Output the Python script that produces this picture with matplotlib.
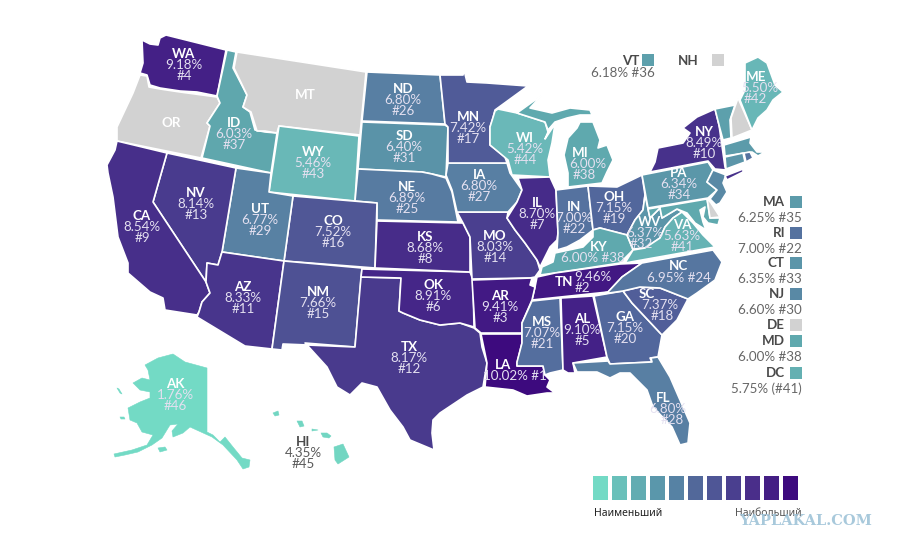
import matplotlib
matplotlib.use('Agg')
import matplotlib.pyplot as plt
from matplotlib.colors import LinearSegmentedColormap
from matplotlib.patches import Polygon, Rectangle

plt.rcParams['font.family'] = ['Lato', 'Noto Sans', 'DejaVu Sans']

# Datos: tasa y puesto de cada estado
codes = ['WA', 'ID', 'WY', 'ND', 'SD', 'NE', 'UT', 'NV', 'CA', 'CO', 'KS', 'MN', 'WI', 'MI', 'IA', 'IL',
         'IN', 'OH', 'PA', 'NY', 'ME', 'WV', 'VA', 'MO', 'KY', 'NC', 'SC', 'GA', 'AL', 'MS', 'AR', 'LA',
         'FL', 'OK', 'NM', 'AZ', 'TX', 'TN', 'AK', 'HI', 'VT', 'MA', 'RI', 'CT', 'NJ', 'MD']
values = [9.18, 6.03, 5.46, 6.80, 6.40, 6.89, 6.77, 8.14, 8.54, 7.52, 8.68, 7.42, 5.42, 6.00, 6.80, 8.70,
          7.00, 7.15, 6.34, 8.49, 5.50, 6.37, 5.63, 8.03, 6.00, 6.95, 7.37, 7.15, 9.10, 7.07, 9.41, 10.02,
          6.80, 8.91, 7.66, 8.33, 8.17, 9.46, 1.76, 4.35, 6.18, 6.25, 7.00, 6.35, 6.60, 6.00]
ranks = [4, 37, 43, 26, 31, 25, 29, 13, 9, 16, 8, 17, 44, 38, 27, 7,
         22, 19, 34, 10, 42, 32, 41, 14, 38, 24, 18, 20, 5, 21, 3, 1,
         28, 6, 15, 11, 12, 2, 46, 45, 36, 35, 22, 33, 30, 38]
no_data = ['OR', 'MT', 'NH', 'DE']

# Estados pequeños que van en la leyenda lateral
side_codes = ['MA', 'RI', 'CT', 'NJ', 'DE', 'MD', 'DC']
side_text = ['6.25% #35', '7.00% #22', '6.35% #33', '6.60% #30', '', '6.00% #38', '5.75% (#41)']
side_values = [6.25, 7.00, 6.35, 6.60, None, 6.00, 5.75]

legend_colors = ['#73DAC5', '#69C0BA', '#62ACB2', '#5A97AB', '#5682A4', '#52689A',
                 '#4F5696', '#4A3F8F', '#4A2E8A', '#441E84', '#3D0A7E']

# Escala de color
scale_vals = [1.76, 4.35, 5.4, 6.0, 6.4, 6.8, 7.2, 7.6, 8.1, 8.6, 9.2, 10.02]
scale_cols = ['#73DAC5', '#72D6C2', '#6AB9B8', '#5FA9AE', '#5A93A8', '#5880A3',
              '#52659B', '#4F5495', '#493C8E', '#472E8A', '#441F86', '#3D0A7E']
cmap = LinearSegmentedColormap.from_list(
    'tasa', [((v - 1.76) / (10.02 - 1.76), c) for v, c in zip(scale_vals, scale_cols)])


def color_of(v):
    return cmap((v - 1.76) / (10.02 - 1.76))


# Contornos de los estados, en píxeles de la imagen
outlines = {
    'WA': [[(142, 40), (150, 44), (158, 45), (160, 38), (166, 35), (226, 50), (217, 96), (197, 92), (180, 91),
            (160, 88), (150, 85), (147, 75), (140, 73), (143, 63)]],
    'OR': [[(140, 75), (147, 76), (149, 87), (160, 89), (180, 92), (217, 97), (220, 103), (207, 123), (210, 126),
            (201, 158), (117, 141), (117, 127), (133, 93)]],
    'ID': [[(227, 50), (236, 52), (233, 68), (247, 95), (243, 107), (250, 112), (255, 130), (265, 132), (277, 133),
            (271, 173), (202, 158), (210, 126), (207, 123), (220, 103), (217, 96)]],
    'MT': [[(237, 52), (366, 72), (360, 135), (279, 126), (277, 133), (265, 131), (257, 131), (251, 112), (243, 107),
            (247, 95), (234, 68)]],
    'WY': [[(279, 126), (359, 136), (355, 201), (269, 192)]],
    'ND': [[(367, 72), (440, 75), (445, 124), (362, 121)]],
    'SD': [[(362, 122), (445, 125), (448, 127), (446, 177), (432, 174), (422, 172), (358, 169)]],
    'NE': [[(358, 169), (422, 172), (432, 174), (446, 178), (452, 192), (458, 222), (377, 220), (377, 203), (355, 201)]],
    'CO': [[(293, 196), (377, 203), (375, 268), (284, 261)]],
    'UT': [[(236, 168), (271, 173), (269, 192), (293, 196), (284, 261), (222, 252)]],
    'NV': [[(167, 153), (236, 168), (222, 252), (218, 265), (207, 263), (206, 282), (153, 202)]],
    'CA': [[(117, 141), (167, 153), (153, 202), (206, 282), (210, 293), (202, 302), (199, 312), (197, 315), (165, 310),
            (163, 298), (150, 292), (128, 273), (128, 263), (118, 237), (113, 197), (108, 173), (107, 165), (115, 150)]],
    'AZ': [[(222, 252), (284, 261), (272, 349), (245, 346), (197, 317), (199, 312), (202, 302), (210, 293), (206, 282),
            (207, 263), (218, 265)]],
    'NM': [[(284, 261), (362, 268), (355, 347), (305, 343), (308, 345), (283, 344), (282, 350), (272, 349)]],
    'TX': [[(361, 277), (401, 278), (399, 311), (403, 313), (420, 320), (440, 325), (460, 323), (474, 328),
            (480, 333), (482, 347), (487, 363), (483, 387), (467, 395), (440, 413), (433, 420), (432, 433),
            (434, 450), (410, 440), (403, 427), (390, 410), (377, 387), (362, 383), (350, 395), (337, 387),
            (327, 367), (307, 345), (355, 347)]],
    'OK': [[(362, 269), (470, 272), (473, 280), (474, 327), (460, 323), (440, 325), (420, 320), (403, 313),
            (399, 311), (401, 278), (361, 277)]],
    'KS': [[(377, 221), (463, 223), (470, 237), (470, 272), (375, 268)]],
    'MO': [[(457, 212), (508, 212), (507, 218), (515, 230), (525, 243), (537, 260), (540, 270), (535, 277), (530, 278),
            (472, 279), (470, 237), (463, 223)]],
    'IA': [[(448, 163), (507, 163), (510, 173), (522, 190), (517, 202), (508, 212), (457, 212), (452, 190), (446, 175)]],
    'MN': [[(440, 75), (463, 75), (464, 70), (467, 82), (487, 83), (528, 86), (495, 110), (493, 118), (490, 127),
            (490, 145), (505, 157), (507, 163), (448, 163), (448, 127), (445, 124)]],
    'WI': [[(495, 111), (498, 109), (517, 113), (545, 122), (548, 132), (545, 139), (555, 124), (552, 143), (548, 160),
            (550, 177), (512, 175), (508, 160), (490, 145), (490, 127)]],
    'MI': [[(517, 113), (542, 95), (530, 108), (552, 113), (570, 108), (590, 110), (592, 115), (580, 115), (567, 118),
            (555, 122), (548, 130), (545, 122)],
           [(580, 122), (593, 122), (600, 140), (598, 148), (607, 145), (613, 160), (607, 172), (602, 183), (568, 187),
            (568, 173), (564, 155), (568, 138), (577, 128)]],
    'IL': [[(518, 178), (550, 177), (556, 190), (558, 233), (557, 240), (550, 247), (540, 267), (537, 260), (525, 243),
            (515, 230), (507, 218), (517, 202), (522, 190)]],
    'IN': [[(556, 190), (588, 186), (593, 230), (580, 240), (567, 247), (557, 250), (558, 233)]],
    'OH': [[(588, 186), (617, 187), (642, 175), (645, 195), (643, 210), (635, 220), (627, 235), (600, 228), (593, 230)]],
    'KY': [[(540, 275), (542, 267), (553, 262), (555, 253), (583, 247), (593, 237), (593, 230), (600, 228), (627, 235),
            (633, 250), (620, 263), (555, 273)]],
    'TN': [[(537, 277), (555, 273), (620, 264), (642, 263), (622, 277), (608, 292), (532, 300), (535, 287)]],
    'WV': [[(645, 195), (648, 209), (650, 218), (660, 208), (662, 218), (677, 209), (682, 212), (673, 218), (665, 227),
            (660, 238), (645, 248), (633, 249), (627, 235), (635, 220), (643, 210)]],
    'VA': [[(682, 212), (693, 223), (703, 235), (715, 247), (625, 263), (633, 250), (645, 248), (660, 238), (665, 227),
            (673, 218)]],
    'MD': [[(648, 209), (707, 199), (710, 218), (720, 218), (718, 225), (708, 223), (703, 217), (705, 207), (700, 210),
            (703, 222), (706, 230), (695, 223), (687, 213), (677, 209), (662, 218), (660, 208), (650, 218)]],
    'DE': [[(707, 198), (711, 203), (720, 217), (710, 218)]],
    'PA': [[(642, 175), (708, 162), (713, 170), (707, 182), (717, 190), (708, 198), (648, 208)]],
    'NJ': [[(713, 170), (726, 175), (723, 183), (727, 192), (720, 203), (716, 205), (710, 199), (717, 190), (707, 182)]],
    'NY': [[(650, 172), (655, 162), (658, 148), (683, 143), (690, 133), (683, 128), (697, 117), (715, 109), (719, 125),
            (725, 167), (726, 170), (715, 169), (708, 161)],
           [(725, 176), (743, 169), (743, 172), (727, 180)]],
    'VT': [[(715, 109), (735, 105), (730, 120), (731, 138), (723, 140), (719, 125)]],
    'NH': [[(738, 98), (752, 130), (732, 138), (731, 118)]],
    'ME': [[(740, 100), (745, 90), (745, 63), (758, 57), (767, 63), (775, 85), (783, 92), (773, 100), (767, 110),
            (758, 118), (752, 130)]],
    'MA': [[(724, 145), (751, 137), (750, 143), (757, 152), (765, 152), (758, 156), (752, 152), (725, 156)]],
    'CT': [[(725, 157), (743, 153), (745, 162), (726, 169)]],
    'RI': [[(744, 153), (750, 152), (753, 158), (746, 162)]],
    'AR': [[(472, 280), (532, 278), (530, 285), (535, 287), (532, 300), (522, 323), (522, 333), (481, 333), (475, 328)]],
    'LA': [[(481, 334), (522, 334), (522, 343), (517, 363), (517, 366), (543, 366), (545, 375), (550, 380), (547, 387),
            (555, 393), (547, 393), (527, 396), (513, 390), (485, 387), (487, 363)]],
    'MS': [[(532, 301), (560, 298), (563, 370), (550, 373), (545, 375), (543, 366), (517, 366), (517, 362), (522, 343),
            (522, 323)]],
    'AL': [[(561, 298), (593, 296), (607, 357), (573, 363), (575, 373), (568, 373), (563, 370)]],
    'GA': [[(594, 296), (623, 291), (632, 303), (662, 335), (658, 357), (650, 358), (652, 362), (610, 364), (607, 357)]],
    'FL': [[(573, 363), (608, 361), (610, 364), (652, 362), (651, 358), (658, 357), (670, 377), (690, 423), (688, 443),
            (680, 445), (672, 427), (653, 407), (647, 390), (630, 373), (620, 373), (610, 378), (597, 372), (577, 372)]],
    'SC': [[(623, 291), (640, 287), (660, 288), (688, 299), (677, 320), (662, 335), (632, 303)]],
    'NC': [[(608, 292), (622, 277), (642, 263), (713, 250), (722, 262), (715, 280), (697, 293), (688, 299), (660, 288),
            (640, 287), (623, 291), (595, 295)]],
    'AK': [[(145, 365), (158, 358), (173, 354), (185, 362), (207, 368), (207, 432), (213, 435), (220, 442), (225, 437),
            (233, 447), (242, 458), (250, 460), (249, 467), (243, 469), (237, 460), (223, 445), (212, 437), (190, 427),
            (183, 433), (173, 437), (172, 431), (178, 424), (170, 425), (162, 438), (152, 445), (138, 452), (125, 455),
            (115, 457), (114, 454), (132, 450), (147, 445), (153, 435), (142, 432), (137, 423), (130, 420), (128, 408),
            (140, 402), (150, 398), (150, 392), (140, 390), (133, 383), (142, 378), (150, 380), (148, 370)],
           [(158, 448), (165, 447), (167, 450), (160, 452)],
           [(117, 388), (119, 389), (122, 394), (120, 393)],
           [(120, 417), (124, 417), (125, 419), (121, 419)]],
    'HI': [[(273, 413), (278, 411), (279, 415), (275, 416)],
           [(297, 421), (302, 421), (304, 426), (300, 427)],
           [(312, 429), (318, 430), (312, 431)],
           [(321, 433), (327, 433), (331, 436), (329, 438), (323, 437)],
           [(334, 447), (343, 444), (349, 457), (338, 464), (335, 460)]],
}

# Posición de la primera línea de cada etiqueta
label_pos = {
    'WA': (184, 54), 'ID': (234, 123), 'WY': (313, 152), 'ND': (403, 89), 'SD': (404, 136), 'NE': (407, 187),
    'UT': (260, 209), 'NV': (196, 193), 'CA': (142, 216), 'CO': (333, 221), 'KS': (425, 237), 'MN': (468, 117),
    'WI': (525, 138), 'MI': (580, 153), 'IA': (479, 175), 'IL': (537, 203), 'IN': (574, 207), 'OH': (614, 197),
    'PA': (679, 173), 'NY': (704, 132), 'ME': (756, 77), 'WV': (650, 222), 'VA': (682, 225), 'MO': (495, 236),
    'SC': (647, 294), 'GA': (625, 317), 'AL': (582, 319), 'MS': (542, 322), 'AR': (500, 296), 'FL': (663, 398),
    'OK': (433, 285), 'NM': (318, 292), 'AZ': (243, 287), 'TX': (409, 347), 'AK': (175, 384), 'HI': (303, 442),
}

# Desplazamiento de la segunda y tercera línea donde no van centradas
line_shift = {
    'WV': ((-5, 0), (-9, 0)), 'ME': ((4, 0), (-1, 0)), 'MI': ((8, 0), (4, 0)),
    'SC': ((13, 0), (15, 0)), 'FL': ((5, 0), (9, 0)),
}

fig = plt.figure(figsize=(9, 5.5), dpi=100)
ax = fig.add_axes([0, 0, 1, 1])
ax.set_xlim(0, 900)
ax.set_ylim(550, 0)
ax.axis('off')

GRAY = '#D2D2D2'
FS = 9.6
LIGHT = '#E4E0F0'

rate = dict(zip(codes, values))
rank = dict(zip(codes, ranks))

for st, rings in outlines.items():
    fc = GRAY if st in no_data else color_of(rate[st])
    # Alaska y Hawái sin borde blanco, las partes finas desaparecerían
    ec = fc if st in ('AK', 'HI') else 'white'
    lw = 0.4 if st in ('AK', 'HI') else 1.2
    for ring in rings:
        ax.add_patch(Polygon(ring, closed=True, facecolor=fc, edgecolor=ec, linewidth=lw, joinstyle='round'))


def label(x, y, txt, bold=False, color='white', ha='center'):
    ax.text(x, y, txt, fontsize=FS, fontweight='bold' if bold else 'normal', color=color,
            ha=ha, va='center')


for st, (x, y) in label_pos.items():
    col1 = '#4A4A4A' if st == 'HI' else 'white'
    col2 = '#5A5A5A' if st == 'HI' else LIGHT
    s2, s3 = line_shift.get(st, ((0, 0), (0, 0)))
    label(x, y, st, True, col1)
    label(x + s2[0], y + 11 + s2[1], f'{rate[st]:.2f}%', False, col2)
    label(x + s3[0], y + 22 + s3[1], f'#{rank[st]}', False, col2)

label(171, 123, 'OR', True)
label(305, 95, 'MT', True)

# Etiquetas con otra disposición
label(599, 247, 'KY', True)
label(593, 258, f"{rate['KY']:.2f}% #{rank['KY']}", False, LIGHT)
label(679, 266, 'NC', True)
label(679, 277.5, f"{rate['NC']:.2f}% #{rank['NC']}", False, LIGHT)
label(503, 365, 'LA', True)
label(515, 376, f"{rate['LA']:.2f}% #{rank['LA']}", False, LIGHT)
label(564, 282, 'TN', True)
label(593, 277, f"{rate['TN']:.2f}%", False, LIGHT)
label(582, 288.5, f"#{rank['TN']}", False, LIGHT)

# Leyenda de arriba
DARK = '#4A4A4A'
MID = '#666666'
label(639, 61, 'VT', True, DARK, 'right')
ax.add_patch(Rectangle((642, 54), 12, 12, facecolor=color_of(rate['VT']), edgecolor='none'))
label(655, 73, f"{rate['VT']:.2f}% #{rank['VT']}", False, MID, 'right')
label(699, 61, 'NH', True, DARK, 'right')
ax.add_patch(Rectangle((712, 54), 12, 12, facecolor=GRAY, edgecolor='none'))

# Leyenda lateral
side_y = [202, 233, 263, 294, 325, 341, 373]
for st, txt, v, y in zip(side_codes, side_text, side_values, side_y):
    label(785, y, st, True, DARK, 'right')
    fc = GRAY if v is None else color_of(v)
    ax.add_patch(Rectangle((790, y - 6), 12, 12, facecolor=fc, edgecolor='none'))
    if txt:
        label(802, y + 16, txt, False, MID, 'right')

# Escala de abajo
for i, c in enumerate(legend_colors):
    left = 592.5 + i * 19.05
    ax.add_patch(Rectangle((left, 476), 15, 23.5, facecolor=c, edgecolor='none'))
ax.text(594, 514, 'Наименьший', fontsize=7.5, color='#222222', ha='left', va='center', family='Noto Sans')
ax.text(802, 514, 'Наибольший', fontsize=7.5, color='#555555', ha='right', va='center', family='Noto Sans')
ax.text(806, 521, 'YAPLAKAL.COM', fontsize=10.5, fontweight='bold', color='#9FC3D8', alpha=0.9,
        ha='center', va='center', family='DejaVu Serif')

fig.savefig('out.png', dpi=100)
